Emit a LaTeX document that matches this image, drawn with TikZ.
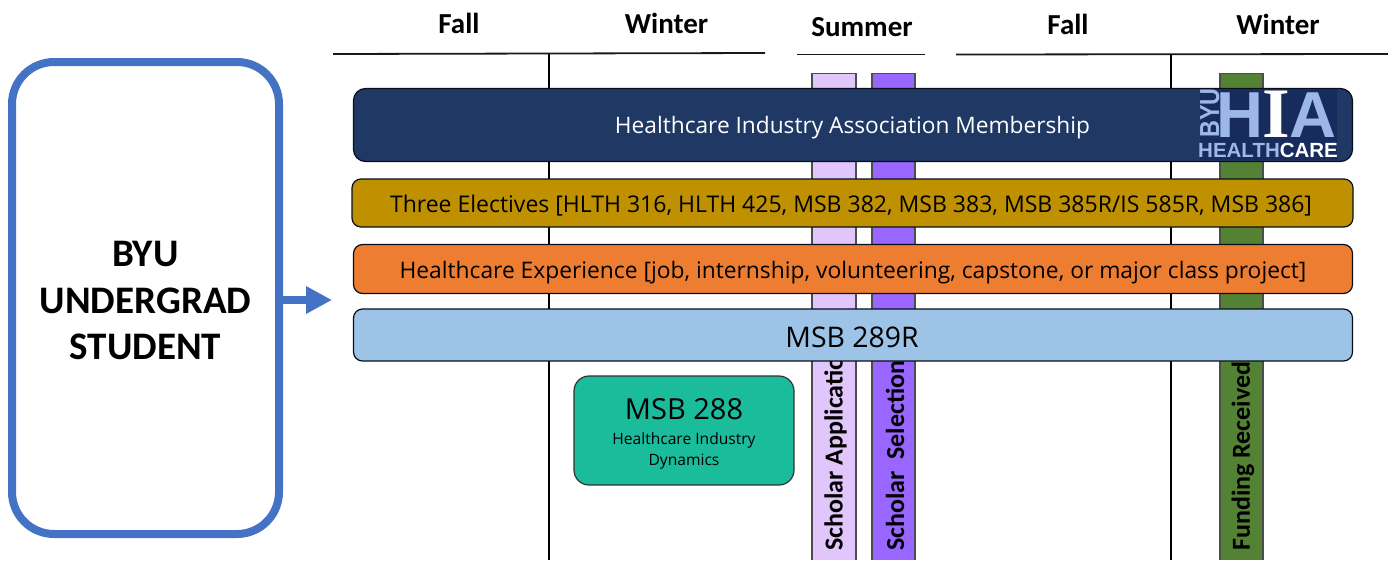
\documentclass[tikz,border=0pt]{standalone}
\usepackage{fontspec}
\usepackage{graphicx}
\setmainfont{Carlito}
\newfontfamily\seg{Open Sans}
\newfontfamily\logofont{Liberation Sans}
\newfontfamily\logoserif{Liberation Serif}
\usetikzlibrary{arrows.meta}
\definecolor{navy}{HTML}{1F3864}
\definecolor{logobg}{HTML}{172B5C}
\definecolor{logoblue}{HTML}{9DB8E8}
\definecolor{gold}{HTML}{BF9000}
\definecolor{orangeb}{HTML}{ED7D31}
\definecolor{sky}{HTML}{9DC3E6}
\definecolor{teal}{HTML}{1ABC9C}
\definecolor{lilac}{HTML}{E0C6FB}
\definecolor{violet}{HTML}{9966FF}
\definecolor{grass}{HTML}{548235}
\definecolor{ublue}{HTML}{4472C4}
\tikzset{
  x=1pt,y=-1pt,
  hbar/.style={draw=black!75!navy,line width=1.2pt,rounded corners=9pt,anchor=center,inner sep=0pt},
  vbar/.style={draw=black!70,line width=1.3pt},
  rule/.style={draw=black!90,line width=1.8pt},
  grid/.style={draw=black,line width=1.8pt},
  season/.style={font=\fontsize{29}{29}\selectfont\bfseries,anchor=base},
  vlabel/.style={rotate=90,anchor=west,font=\fontsize{26}{26}\selectfont\bfseries,inner sep=0pt},
}
\begin{document}
\begin{tikzpicture}
\useasboundingbox (0,0) rectangle (1388,560);
% season headers
\node[season] (s1) at (459,33) {Fall};
\node[season] (s2) at (666.5,33) {Winter};
\node[season] (s3) at (862,36) {Summer};
\node[season] (s4) at (1068,34) {Fall};
\node[season] (s5) at (1278,34) {Winter};
\draw[rule] (333,54) -- (765,53);
\draw[rule] (797,54.5) -- (925,54.5);
\draw[rule] (956,54.5) -- (1388,54);
% term dividers
\draw[grid] (549,54) -- (549,560);
\draw[grid] (1171,54) -- (1171,560);
% vertical bars
\path[vbar,fill=lilac] (812,560) -- (812,73.5) -- (856,73.5) -- (856,560);
\path[vbar,fill=violet] (872,560) -- (872,73.5) -- (915,73.5) -- (915,560);
\path[vbar,fill=grass] (1220,560) -- (1220,73.5) -- (1263,73.5) -- (1263,560);
\node[vlabel] (v1) at (835.5,551) {Scholar Application};
\node[vlabel] (v2) at (895,551) {Scholar\ \ Selection};
\node[vlabel] (v3) at (1243,551) {Funding Received};
% horizontal bars
\node[hbar,fill=navy,rounded corners=12pt,minimum width=999pt,minimum height=73pt] (hia) at (853,125) {};
\node[hbar,fill=gold,minimum width=1001pt,minimum height=48pt] (elec) at (852.5,203) {};
\node[hbar,fill=orangeb,minimum width=999pt,minimum height=49pt] (exp) at (853,269) {};
\node[hbar,fill=sky,minimum width=999pt,minimum height=52pt] (r289) at (853,335) {};
\node[text=white,font=\seg\fontsize{22.7}{23}\selectfont,inner sep=0pt] (hiat) at (852.5,127.5) {Healthcare Industry Association Membership};
\node[font=\seg\fontsize{23}{23}\selectfont,inner sep=0pt] (elect) at (851,206) {Three Electives [HLTH 316, HLTH 425, MSB 382, MSB 383, MSB 385R/IS 585R, MSB 386]};
\node[font=\seg\fontsize{22.8}{23}\selectfont,inner sep=0pt] (expt) at (853,273) {Healthcare Experience [job, internship, volunteering, capstone, or major class project]};
\node[font=\seg\fontsize{28.4}{29}\selectfont,inner sep=0pt] (r289t) at (852,337) {MSB 289R};
% logo
\fill[logobg] (1200,89) rectangle (1337,160);
\node[rotate=90,anchor=base west,inner sep=0pt,text=logoblue,font=\logofont\bfseries\fontsize{27.5}{27.5}\selectfont] (lb) at (1219,138) {\scalebox{0.85}[1]{BYU}};
\node[anchor=base west,inner sep=0pt,text=logoblue,font=\logofont\bfseries\fontsize{65}{65}\selectfont] (lh) at (1216.5,137) {H};
\node[anchor=base,inner sep=0pt,text=white,font=\logoserif\bfseries\fontsize{71}{71}\selectfont] (li) at (1276.5,137) {I};
\node[anchor=base west,inner sep=0pt,text=logoblue,font=\logofont\bfseries\fontsize{65}{65}\selectfont] (la) at (1289,137) {A};
\node[anchor=base west,inner sep=0pt,text=logoblue,font=\logofont\bfseries\fontsize{20.5}{20.5}\selectfont] (lhe) at (1198,157) {HEALTH\textcolor{white}{CARE}};
% MSB 288
\node[draw=black!80,line width=1.2pt,fill=teal,rounded corners=15pt,minimum width=220pt,minimum height=109pt,inner sep=0pt] (m288) at (684,430.5) {};
\node[font=\seg\fontsize{29}{29}\selectfont,inner sep=0pt] (m288t) at (684,409.5) {MSB 288};
\node[font=\seg\fontsize{15.6}{21}\selectfont,align=center,inner sep=0pt] (m288s) at (684,451) {Healthcare Industry\\Dynamics};
% student
\node[draw=ublue,line width=8pt,rounded corners=42pt,minimum width=267pt,minimum height=472pt,inner sep=0pt] (stu) at (145.5,298) {};
\node[font=\fontsize{39}{46.5}\selectfont\bfseries,align=center,inner sep=0pt] (stut) at (145.5,300.5) {BYU\\UNDERGRAD\\STUDENT};
\coordinate (arr) at (332,300);
\draw[-{Triangle[length=26pt,width=26pt]},line width=8pt,ublue] (stu.east |- arr) -- (arr);
\end{tikzpicture}
\end{document}
